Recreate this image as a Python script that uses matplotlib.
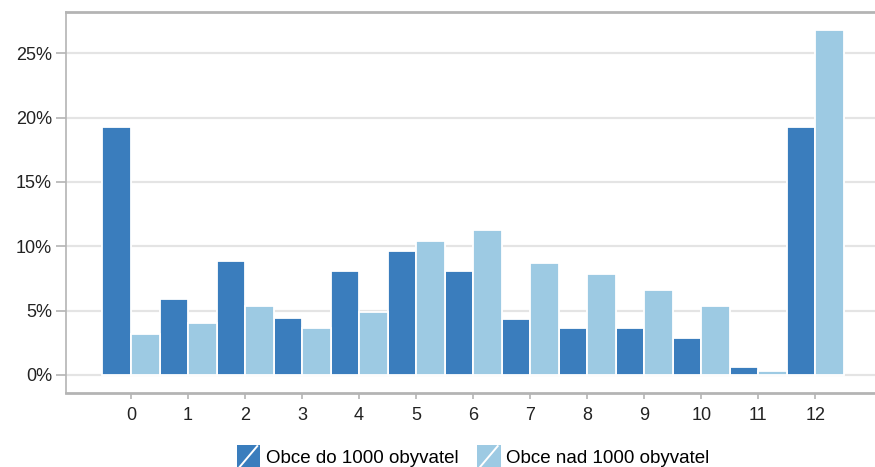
import numpy as np
import matplotlib
matplotlib.use("Agg")
import matplotlib.pyplot as plt
from matplotlib.patches import Rectangle
from matplotlib.lines import Line2D
from matplotlib.legend_handler import HandlerBase
from matplotlib.ticker import FuncFormatter

# data (share of municipalities, %)
categories = [str(i) for i in range(13)]
do_1000 = [19.3, 5.9, 8.85, 4.4, 8.1, 9.6, 8.07, 4.37, 3.62, 3.62, 2.85, 0.65, 19.3]
nad_1000 = [3.2, 4.05, 5.38, 3.67, 4.92, 10.4, 11.28, 8.67, 7.87, 6.63, 5.38, 0.31, 26.8]
labels = ["Obce do 1000 obyvatel", "Obce nad 1000 obyvatel"]

dark = "#3a7dbd"
light = "#9dcae3"
grid_c = "#e4e4e4"
spine_c = "#b4b4b4"

plt.rcParams['font.family'] = ['Liberation Sans', 'DejaVu Sans']


class SlashHandler(HandlerBase):
    # square patch with a white diagonal stroke
    def create_artists(self, legend, orig_handle, xdescent, ydescent,
                       width, height, fontsize, trans):
        s = min(width, height * 1.6)
        x0 = -xdescent + (width - s) / 2
        y0 = -ydescent + (height - s) / 2
        r = Rectangle((x0, y0), s, s, facecolor=orig_handle.get_facecolor(),
                      edgecolor="none", transform=trans)
        ln = Line2D([x0 + s * 0.12, x0 + s * 0.88], [y0 + s * 0.05, y0 + s * 0.95],
                    color="white", lw=1.4, transform=trans)
        return [r, ln]


fig = plt.figure(figsize=(8.75, 4.67), dpi=100)
ax = fig.add_axes([66 / 875, 1 - 393 / 467, 1 - 66 / 875 + 0.01, (393 - 12) / 467])

x = np.arange(len(categories))
b1 = ax.bar(x - 0.25, do_1000, width=0.5, color=dark, edgecolor="white", linewidth=1.3, zorder=3)
b2 = ax.bar(x + 0.25, nad_1000, width=0.5, color=light, edgecolor="white", linewidth=1.3, zorder=3)

ax.set_xlim(-1.14, 13.2)
ax.set_ylim(-1.4, 28.2)
ax.set_yticks([0, 5, 10, 15, 20, 25])
ax.yaxis.set_major_formatter(FuncFormatter(lambda v, p: f"{v:.0f}%"))
ax.set_xticks(x)
ax.set_xticklabels(categories)
ax.yaxis.grid(True, color=grid_c, linewidth=1.6, zorder=0)
ax.set_axisbelow(True)

for side in ["top", "bottom"]:
    ax.spines[side].set_color(spine_c)
    ax.spines[side].set_linewidth(2)
ax.spines["left"].set_color(spine_c)
ax.spines["left"].set_linewidth(1.2)
ax.spines["right"].set_visible(False)

ax.tick_params(axis="y", length=7, width=1.2, color=spine_c, labelsize=13, pad=3, labelcolor="#222222")
ax.tick_params(axis="x", length=4, width=1.2, color=spine_c, labelsize=13, pad=6, labelcolor="#222222")

leg = fig.legend([b1[0], b2[0]], labels, loc="center", bbox_to_anchor=(473 / 875, 1 - 458 / 467),
                 ncol=2, frameon=False, fontsize=13.5, handler_map={Rectangle: SlashHandler()},
                 handlelength=1.25, handleheight=0.9, handletextpad=0.3, columnspacing=1.0)

fig.savefig("out.png", dpi=100)
